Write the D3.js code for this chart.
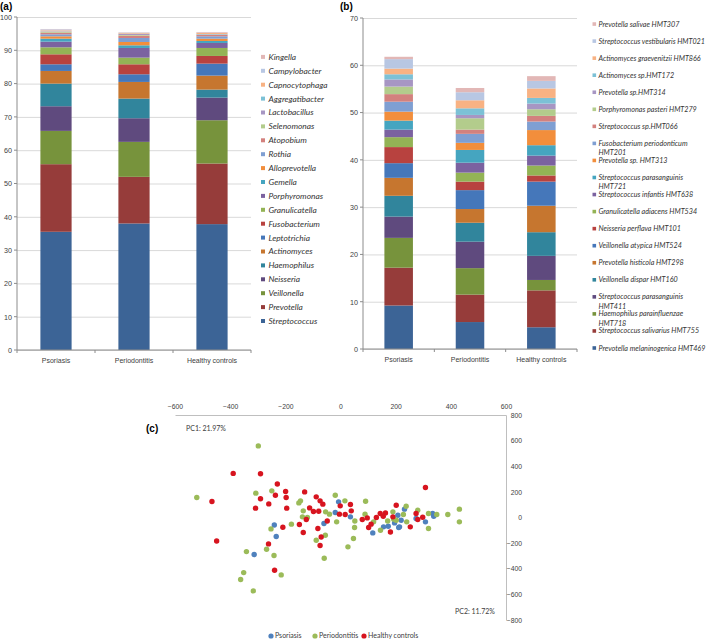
<!DOCTYPE html>
<html>
<head>
<meta charset="utf-8">
<script src="https://cdn.jsdelivr.net/npm/d3@7"></script>
<style>
body { margin: 0; background: #fff; }
svg { font-family: Lato, "Liberation Sans", sans-serif; }
</style>
</head>
<body>
<div id="fig"></div>
<script>
const groups = ['Psoriasis', 'Periodontitis', 'Healthy controls']

// panel (a): genera, bottom of the stack first
const genera = ['Streptococcus','Prevotella','Veillonella','Neisseria','Haemophilus','Actinomyces','Leptotrichia','Fusobacterium','Granulicatella','Porphyromonas','Gemella','Alloprevotella','Rothia','Atopobium','Selenomonas','Lactobacillus','Aggregatibacter','Capnocytophaga','Campylobacter','Kingella']
const generaPsoriasis     = [35.5,20.3,10.0,7.4,6.8,3.8,2.0,3.0,2.1,1.7,0.9,0.7,0.6,0.5,0.2,0.1,0.1,0.3,0.3,0.1]
const generaPeriodontitis = [38.0,14.0,10.5,7.1,5.9,5.0,2.3,3.0,2.0,2.9,0.8,1.0,1.2,0.7,0.2,0.3,0.1,0.2,0.1,0.1]
const generaHealthy       = [37.8,18.2,13.0,6.8,2.4,4.2,3.6,2.3,2.4,1.5,0.6,0.7,0.7,0.4,0.1,0.1,0.1,0.3,0.1,0.2]

// panel (b): species, bottom of the stack first
const species = ['Prevotella melaninogenica HMT469','Streptococcus salivarius HMT755','Haemophilus parainfluenzae HMT718','Streptococcus parasanguinis HMT411','Veillonella dispar HMT160','Prevotella histicola HMT298','Veillonella atypica HMT524','Neisseria perflava HMT101','Granulicatella adiacens HMT534','Streptococcus infantis HMT638','Streptococcus parasanguinis HMT721','Prevotella sp. HMT313','Fusobacterium periodonticum HMT201','Streptococcus sp.HMT066','Porphyromonas pasteri HMT279','Prevotella sp.HMT314','Actinomyces sp.HMT172','Actinomyces graevenitzii HMT866','Streptococcus vestibularis HMT021','Prevotella salivae HMT307']
const speciesPsoriasis     = [9.2,8.0,6.3,4.5,4.4,3.8,3.1,3.4,2.1,1.6,1.9,1.9,2.1,1.6,1.6,1.5,1.1,1.2,2.0,0.5]
const speciesPeriodontitis = [5.7,5.8,5.6,5.6,4.0,2.9,4.0,1.8,1.9,2.1,2.7,1.5,1.9,0.9,2.4,0.7,1.4,1.7,1.7,0.9]
const speciesHealthy       = [4.6,7.8,2.2,5.1,5.0,5.6,5.1,1.3,2.1,2.1,2.2,3.2,1.8,1.2,1.4,1.2,1.2,2.0,1.6,1.0]
const wrappedSpecies = {
  'Fusobacterium periodonticum HMT201': ['Fusobacterium periodonticum', 'HMT201'],
  'Streptococcus parasanguinis HMT721': ['Streptococcus parasanguinis', 'HMT721'],
  'Streptococcus parasanguinis HMT411': ['Streptococcus parasanguinis', 'HMT411'],
  'Haemophilus parainfluenzae HMT718': ['Haemophilus parainfluenzae', 'HMT718']
}

const palette = ['#3c6496','#963c3a','#77933c','#5f4a7e','#31859c','#c6762f','#4577ba','#b8423f','#93b355','#7b62a0','#45a5c0','#f28e3c','#7f9fd2','#d3817e','#b3cc8c','#a796c3','#7cc1d6','#f8b283','#b8c7e3','#e2b7b6']

// panel (c): PCA scores [PC1, PC2]
const psoriasisPts = [[-240,-58],[-233,-148],[-313,-289],[-7,122],[-19,39],[-60,-47],[36,5],[117,-120],[156,-73],[173,-68],[208,18],[214,-73],[232,65],[220,-21],[196,-42],[211,-78],[274,-8],[308,-34],[334,31],[338,10]]
const periodontitisPts = [[-298,559],[-521,156],[-307,190],[-249,208],[-151,114],[-145,130],[-178,-52],[-252,-89],[-268,-248],[-241,-297],[-341,-266],[-351,-430],[-362,-484],[-316,-573],[-215,-448],[-19,174],[16,130],[91,127],[-135,52],[-138,5],[-120,0],[-54,44],[-40,26],[-14,-34],[52,-27],[51,-78],[-88,-177],[-55,-138],[47,-164],[27,-229],[-59,-318],[145,-99],[171,-27],[89,26],[120,-34],[193,-13],[238,88],[190,44],[228,23],[202,-21],[240,-34],[280,57],[319,31],[349,23],[389,23],[431,65],[431,-34],[319,-86]]
const healthyPts = [[-389,344],[-290,341],[-229,262],[-466,125],[-199,203],[-236,174],[-290,146],[-197,156],[-260,106],[-308,73],[-195,73],[-149,-55],[-209,-76],[-449,-183],[-261,-206],[-239,-412],[-130,200],[-88,161],[-74,130],[-64,104],[-112,75],[-98,47],[-79,49],[-1,91],[36,101],[39,52],[-4,26],[17,23],[-124,-16],[-135,-117],[-82,-86],[-70,-152],[-74,-219],[-48,-27],[79,-16],[97,-3],[111,-52],[102,-78],[144,31],[163,36],[202,96],[181,-113],[308,234],[190,5],[274,31],[298,2],[280,-16],[253,-73],[130,0],[155,10]]

const width = 709, height = 640
const svg = d3.select('#fig').append('svg')
  .attr('width', width)
  .attr('height', height)

const gridColor = '#d9d9d9'
const axisColor = '#8c8c8c'
const textColor = '#404040'

function stackedPanel(g, opts) {
  const rows = groups.map((grp, gi) => {
    const r = {group: grp}
    opts.keys.forEach((k, ki) => r[k] = opts.values[gi][ki])
    return r
  })
  const series = d3.stack().keys(opts.keys)(rows)

  const x = d3.scaleBand().domain(groups)
    .range([opts.left, opts.right])
    .paddingInner(0.6).paddingOuter(0.3)
  const y = d3.scaleLinear().domain([0, opts.max]).range([opts.bottom, opts.top])

  // gridlines + labels
  const yAxis = g.append('g')
    .attr('transform', `translate(${opts.left},0)`)
    .call(d3.axisLeft(y).ticks(opts.max / 10).tickSizeInner(-(opts.right - opts.left)).tickSizeOuter(0).tickPadding(5))
  yAxis.select('.domain').remove()
  yAxis.selectAll('line').attr('stroke', gridColor)
  yAxis.selectAll('text').attr('font-size', 7.2).attr('font-family', null).attr('fill', textColor)
  // small outside ticks
  g.append('g').selectAll('line').data(y.ticks(opts.max / 10)).join('line')
    .attr('x1', opts.left - 3).attr('x2', opts.left)
    .attr('y1', d => y(d)).attr('y2', d => y(d))
    .attr('stroke', axisColor)

  g.append('g').selectAll('g')
    .data(series)
    .join('g')
    .attr('fill', (d, i) => palette[i])
    .selectAll('rect')
    .data(d => d)
    .join('rect')
    .attr('x', d => x(d.data.group))
    .attr('width', x.bandwidth())
    .attr('y', d => y(d[1]))
    .attr('height', d => y(d[0]) - y(d[1]))

  // axis lines
  g.append('line').attr('x1', opts.left).attr('x2', opts.left)
    .attr('y1', opts.top).attr('y2', opts.bottom).attr('stroke', axisColor)
  g.append('line').attr('x1', opts.left).attr('x2', opts.right)
    .attr('y1', opts.bottom).attr('y2', opts.bottom).attr('stroke', axisColor)
  g.append('g').selectAll('line')
    .data(d3.range(groups.length + 1))
    .join('line')
    .attr('x1', i => opts.left + x.step() * i).attr('x2', i => opts.left + x.step() * i)
    .attr('y1', opts.bottom).attr('y2', opts.bottom + 3)
    .attr('stroke', axisColor)

  const xAxis = g.append('g')
    .attr('transform', `translate(0,${opts.bottom})`)
    .call(d3.axisBottom(x).tickSize(0).tickPadding(8))
  xAxis.select('.domain').remove()
  xAxis.selectAll('text').attr('font-size', 7).attr('font-family', null).attr('fill', textColor)

  return {x, y}
}

// ---- panel (a)
const panelA = svg.append('g')
stackedPanel(panelA, {keys: genera, values: [generaPsoriasis, generaPeriodontitis, generaHealthy],
  left: 17, right: 251, top: 17, bottom: 350, max: 100})

svg.append('text').attr('x', 0).attr('y', 10).text('(a)')
  .attr('font-size', 10).attr('font-weight', 'bold').attr('font-family', 'Liberation Sans, Arial, sans-serif')

const legA = svg.append('g')
genera.forEach((name, i) => {
  const yy = 321 - i * 13.9
  legA.append('rect').attr('x', 261).attr('y', yy - 2).attr('width', 4).attr('height', 4).attr('fill', palette[i])
  legA.append('text').attr('x', 268.5).attr('y', yy).attr('dy', '0.35em')
    .attr('font-size', 8.4).attr('font-style', 'italic').attr('fill', '#333').text(name)
})

// ---- panel (b)
const panelB = svg.append('g')
stackedPanel(panelB, {keys: species, values: [speciesPsoriasis, speciesPeriodontitis, speciesHealthy],
  left: 363, right: 577, top: 18, bottom: 349, max: 70})

svg.append('text').attr('x', 340).attr('y', 10).text('(b)')
  .attr('font-size', 10).attr('font-weight', 'bold').attr('font-family', 'Liberation Sans, Arial, sans-serif')

const legB = svg.append('g')
species.forEach((name, i) => {
  const yy = 348 - i * 17.05
  legB.append('rect').attr('x', 592.5).attr('y', yy - 1.8).attr('width', 3.6).attr('height', 3.6).attr('fill', palette[i])
  const lines = wrappedSpecies[name] || [name]
  const t = legB.append('text').attr('x', 598.5).attr('y', yy)
    .attr('font-size', 7.2).attr('font-style', 'italic').attr('fill', '#333')
  lines.forEach((ln, li) => {
    t.append('tspan').attr('x', 598.5).attr('dy', li === 0 ? '0.35em' : 9.2).text(ln)
  })
})

// ---- panel (c)
const xC = d3.scaleLinear().domain([-600, 600]).range([175, 506])
const yC = d3.scaleLinear().domain([-800, 800]).range([620, 415])
const panelC = svg.append('g')

const topAxis = panelC.append('g')
  .attr('transform', `translate(0,${yC(800)})`)
  .call(d3.axisTop(xC).tickValues(d3.range(-600, 601, 200)).tickSize(0).tickPadding(6))
topAxis.select('.domain').attr('stroke', '#bfbfbf')
topAxis.selectAll('text').attr('font-size', 6.8).attr('font-family', null).attr('fill', textColor)

const rightAxis = panelC.append('g')
  .attr('transform', `translate(${xC(600)},0)`)
  .call(d3.axisRight(yC).tickValues(d3.range(-800, 801, 200)).tickSize(0).tickPadding(16))
rightAxis.select('.domain').attr('stroke', '#bfbfbf')
rightAxis.selectAll('text').attr('font-size', 6.8).attr('font-family', null).attr('fill', textColor)
  .attr('text-anchor', 'end')

const scatterSeries = [
  {name: 'Psoriasis', pts: psoriasisPts, color: '#4f81bd'},
  {name: 'Periodontitis', pts: periodontitisPts, color: '#9bbb59'},
  {name: 'Healthy controls', pts: healthyPts, color: '#d7141f'}
]
scatterSeries.forEach(s => {
  panelC.append('g').selectAll('circle')
    .data(s.pts)
    .join('circle')
    .attr('cx', d => xC(d[0]))
    .attr('cy', d => yC(d[1]))
    .attr('r', 2.7)
    .attr('fill', s.color)
})

panelC.append('text').attr('x', 186).attr('y', 431).text('PC1: 21.97%')
  .attr('font-size', 7).attr('fill', textColor)
panelC.append('text').attr('x', 455).attr('y', 614).text('PC2: 11.72%')
  .attr('font-size', 7).attr('fill', textColor)

svg.append('text').attr('x', 146).attr('y', 432).text('(c)')
  .attr('font-size', 10).attr('font-weight', 'bold').attr('font-family', 'Liberation Sans, Arial, sans-serif')

const legC = panelC.append('g')
const legX = [271, 315, 364]
scatterSeries.forEach((s, i) => {
  legC.append('circle').attr('cx', legX[i]).attr('cy', 636).attr('r', 2.6).attr('fill', s.color)
  legC.append('text').attr('x', legX[i] + 4).attr('y', 636).attr('dy', '0.35em')
    .attr('font-size', 7).attr('fill', textColor).text(s.name)
})
</script>
</body>
</html>
